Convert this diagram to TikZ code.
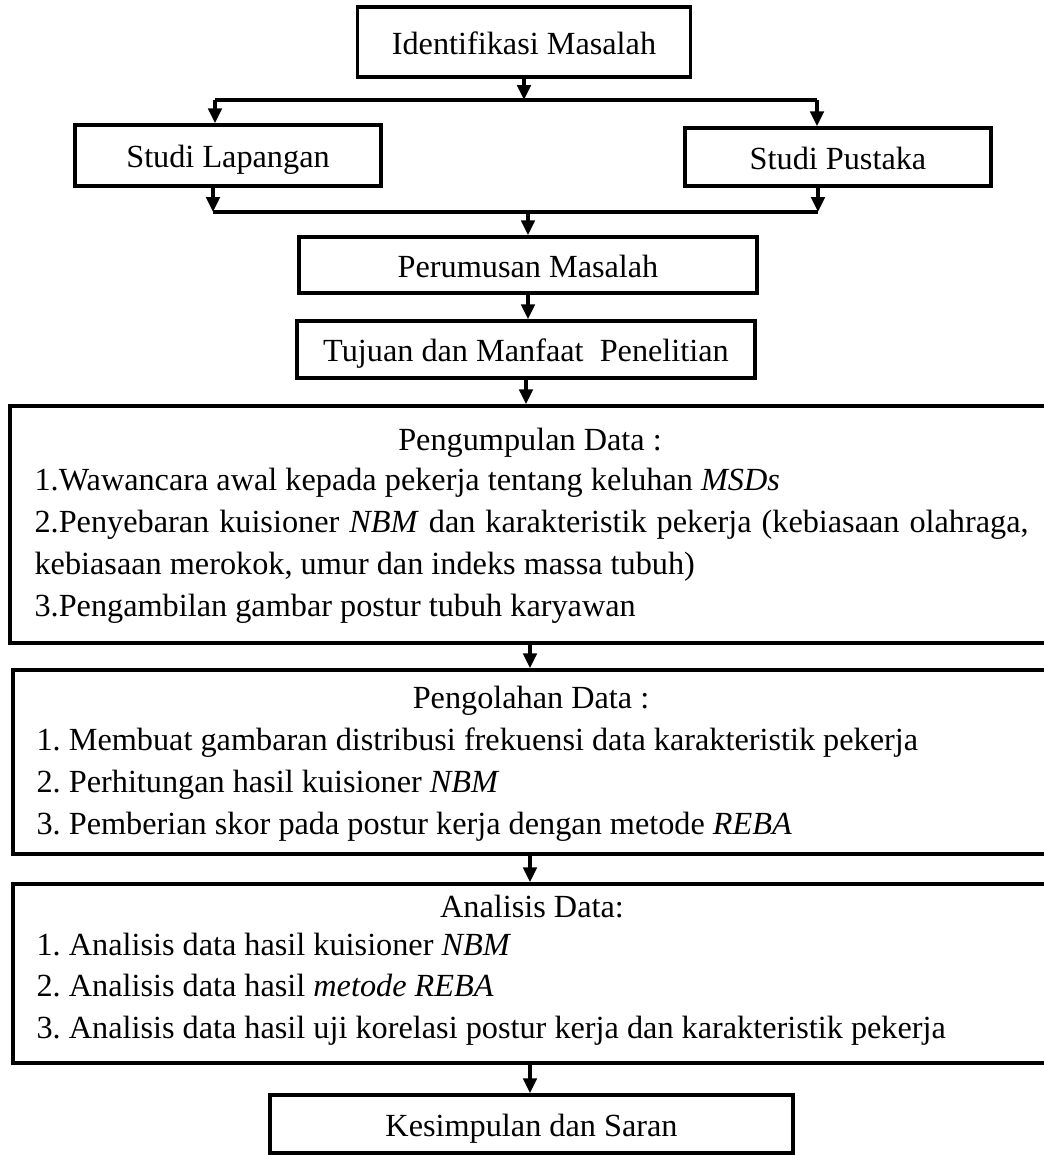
\documentclass[tikz,border=0pt]{standalone}
\usepackage{fontspec}
\setmainfont{Liberation Serif}
\usetikzlibrary{arrows.meta}
\newdimen\pxu \pxu=0.372pt
\frenchspacing

\begin{document}
\begin{tikzpicture}[x=0.372pt,y=-0.372pt,>={Triangle[length=5.5pt,width=5pt]},line width=1.2pt,
  box/.style={draw, rectangle, line width=1.3pt, inner sep=0pt, text height=10pt, text depth=1pt, font=\fontsize{12}{14}\selectfont},
  bigbox/.style={draw, rectangle, line width=1.3pt, inner sep=0pt},
  txt/.style={inner sep=0pt, font=\fontsize{12}{15.6}\selectfont}]
\useasboundingbox (0,0) rectangle (1044,1155);

\node[box, minimum width=333\pxu, minimum height=70\pxu] (idm) at (524,42) {Identifikasi Masalah};
\node[box, minimum width=306\pxu, minimum height=61\pxu] (stl) at (228,155.5) {Studi Lapangan};
\node[box, minimum width=306\pxu, minimum height=58\pxu] (stp) at (838,157) {Studi Pustaka};
\node[box, minimum width=458\pxu, minimum height=56\pxu] (prm) at (528,265) {Perumusan Masalah};
\node[box, minimum width=458\pxu, minimum height=57\pxu] (tjn) at (526,349.5) {Tujuan dan Manfaat~ Penelitian};

% kotak besar (baris terakhir = base)
\node[bigbox, minimum width=1040\pxu, minimum height=237\pxu] (kumpul) at (530,524.5) {};
\node[txt, anchor=base] (kumpulT) at (530,450) {Pengumpulan Data :};
\node[txt, anchor=base west, align=left] (kumpulL) at (33,616) {1.Wawancara awal kepada pekerja tentang keluhan \textit{MSDs}\\
  \makebox[994\pxu][s]{2.Penyebaran kuisioner \textit{NBM} dan karakteristik pekerja (kebiasaan olahraga,}\\
  kebiasaan merokok, umur dan indeks massa tubuh)\\
  3.Pengambilan gambar postur tubuh karyawan};

\node[bigbox, minimum width=1037\pxu, minimum height=184\pxu] (olah) at (531.5,762) {};
\node[txt, anchor=base] (olahT) at (531,708) {Pengolahan Data :};
\node[txt, anchor=base west, align=left] (olahL) at (35,834) {1. Membuat gambaran distribusi frekuensi data karakteristik pekerja\\
  2. Perhitungan hasil kuisioner \textit{NBM}\\
  3. Pemberian skor pada postur kerja dengan metode \textit{REBA}};

\node[bigbox, minimum width=1037\pxu, minimum height=179\pxu] (anls) at (531.5,973.5) {};
\node[txt, anchor=base] (anlsT) at (532,917) {Analisis Data:};
\node[txt, anchor=base west, align=left, font=\fontsize{12}{15.4}\selectfont] (anlsL) at (35,1038) {1. Analisis data hasil kuisioner \textit{NBM}\\
  2. Analisis data hasil \textit{metode REBA}\\
  3. Analisis data hasil uji korelasi postur kerja dan karakteristik pekerja};

\node[box, minimum width=523\pxu, minimum height=58\pxu] (ksm) at (531.5,1124) {Kesimpulan dan Saran};

% percabangan
\coordinate (brl) at (215,100);
\coordinate (brr) at (817,100);
\coordinate (mgl) at (213,212);
\coordinate (mgr) at (818,212);

\draw[->] (idm) -- (idm |- brl);
\draw (brl) -- (brr);
\draw[->] (brl) -- (brl |- stl.north);
\draw[->] (brr) -- (brr |- stp.north);
\draw[->] (mgl |- stl.south) -- (mgl);
\draw[->] (mgr |- stp.south) -- (mgr);
\draw (mgl) -- (mgr);
\draw[->] (prm.north |- mgl) -- (prm);
\draw[->] (prm) -- (prm |- tjn.north);
\draw[->] (tjn) -- (tjn |- kumpul.north);
\draw[->] (kumpul.south) -- (kumpul.south |- olah.north);
\draw[->] (kumpul.south |- olah.south) -- (kumpul.south |- anls.north);
\draw[->] (kumpul.south |- anls.south) -- (kumpul.south |- ksm.north);
\end{tikzpicture}
\end{document}
